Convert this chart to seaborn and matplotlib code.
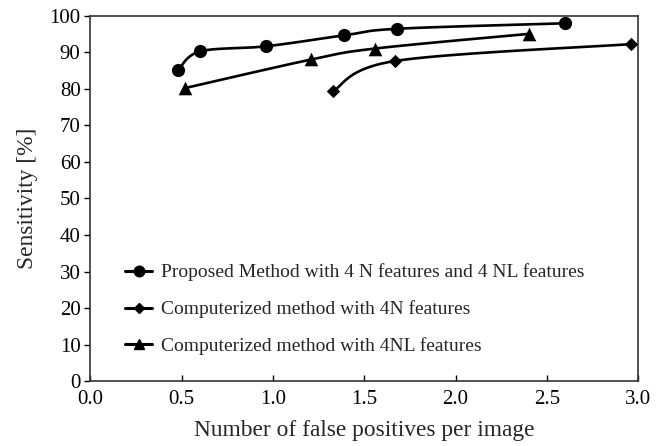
import numpy as np
import pandas as pd
import matplotlib
matplotlib.use("Agg")
import matplotlib.pyplot as plt
import seaborn as sns
from matplotlib.lines import Line2D

# ---- data ----
proposed_fp = [0.48, 0.60, 0.96, 1.39, 1.68, 2.60]
proposed_sens = [85.0, 90.2, 91.6, 94.6, 96.4, 97.9]

n_fp = [1.33, 1.67, 2.96]
n_sens = [79.4, 87.6, 92.2]

nl_fp = [0.52, 1.21, 1.56, 2.40]
nl_sens = [80.2, 88.0, 91.0, 95.0]

labels = [
    "Proposed Method with 4 N features and 4 NL features",
    "Computerized method with 4N features",
    "Computerized method with 4NL features",
]
markers = ["o", "D", "^"]
marker_sizes = [9.5, 6.8, 9.8]

x_ticks = [0.0, 0.5, 1.0, 1.5, 2.0, 2.5, 3.0]
y_ticks = list(range(0, 101, 10))


def smooth(xs, ys, n=30):
    """Excel-style smoothed line (cardinal Bezier through the points)."""
    P = np.column_stack([xs, ys]).astype(float)
    if len(P) < 3:
        return P[:, 0], P[:, 1]
    ext = np.vstack([P[0], P, P[-1]])
    out = []
    t = np.linspace(0, 1, n)
    for i in range(1, len(ext) - 2):
        p0, p3 = ext[i], ext[i + 1]
        c1 = p0 + (ext[i + 1] - ext[i - 1]) / 6.0
        c2 = p3 - (ext[i + 2] - ext[i]) / 6.0
        seg = ((1 - t) ** 3)[:, None] * p0 + (3 * (1 - t) ** 2 * t)[:, None] * c1 \
            + (3 * (1 - t) * t ** 2)[:, None] * c2 + (t ** 3)[:, None] * p3
        out.append(seg if i == 1 else seg[1:])
    S = np.vstack(out)
    return S[:, 0], S[:, 1]


sns.set_theme(style="white")
plt.rcParams["font.family"] = ["Liberation Serif", "DejaVu Serif"]
plt.rcParams["mathtext.fontset"] = "stix"

fig = plt.figure(figsize=(6.64, 4.46), dpi=100)
ax = fig.add_axes([0.136, 0.145, 0.825, 0.82])

series = [(proposed_fp, proposed_sens), (n_fp, n_sens), (nl_fp, nl_sens)]
for (xs, ys), mk, ms, lab in zip(series, markers, marker_sizes, labels):
    sx, sy = smooth(xs, ys)
    sns.lineplot(x=sx, y=sy, sort=False, estimator=None, color="black",
                 linewidth=1.9, ax=ax)
    sns.scatterplot(x=xs, y=ys, marker=mk, s=ms ** 2, color="black",
                    edgecolor="black", linewidth=0, ax=ax, zorder=3)

ax.set_xlim(0, 3.0)
ax.set_ylim(0, 100)
ax.set_xticks(x_ticks)
ax.set_xticklabels([f"{v:.1f}" for v in x_ticks])
ax.set_yticks(y_ticks)
ax.set_yticklabels([str(v) for v in y_ticks])

ax.tick_params(axis="x", direction="in", length=4, width=1, pad=6,
               labelsize=15, colors="black", bottom=True)
ax.tick_params(axis="y", direction="out", length=4, width=1, pad=3,
               labelsize=15, colors="black", left=True)
for sp in ax.spines.values():
    sp.set_color("#333333")
    sp.set_linewidth(1.2)

ax.set_xlabel("Number of false positives per image", fontsize=16.8, labelpad=8)
ax.set_ylabel("Sensitivity [%]", fontsize=16.8, labelpad=8)

handles = [Line2D([0], [0], color="black", lw=2.2, marker=mk, markersize=ms * 0.8)
           for mk, ms in zip(markers, marker_sizes)]
ax.legend(handles, labels, loc="lower left", bbox_to_anchor=(0.05, 0.05),
          frameon=False, fontsize=14, handlelength=1.35, handletextpad=0.5,
          labelspacing=0.98, borderaxespad=0)

fig.savefig("out.png", dpi=100)
